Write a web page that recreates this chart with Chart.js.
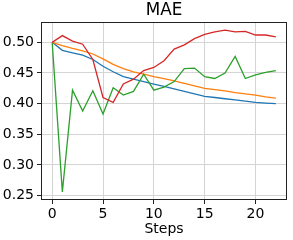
<!DOCTYPE html>
<html>
<head>
<meta charset="utf-8">
<script src="https://cdn.jsdelivr.net/npm/chart.js@4.4.1/dist/chart.umd.min.js"></script>
<style>
  html, body { margin: 0; padding: 0; background: #fff; }
  #wrap { width: 293px; height: 240px; }
</style>
</head>
<body>
<div id="wrap"><canvas id="maeChart" width="293" height="240"></canvas></div>
<script>
// values
const steps = [0,1,2,3,4,5,6,7,8,9,10,11,12,13,14,15,16,17,18,19,20,21,22];
const blueVals   = [0.500,0.487,0.483,0.479,0.472,0.461,0.452,0.444,0.440,0.436,0.432,0.428,0.424,0.420,0.416,0.412,0.410,0.408,0.406,0.404,0.402,0.401,0.400];
const orangeVals = [0.500,0.4945,0.490,0.486,0.481,0.473,0.464,0.457,0.452,0.448,0.444,0.441,0.437,0.433,0.429,0.425,0.423,0.421,0.418,0.416,0.414,0.411,0.409];
const greenVals  = [0.500,0.256,0.422,0.388,0.421,0.383,0.426,0.414,0.420,0.448,0.422,0.427,0.436,0.457,0.458,0.444,0.441,0.450,0.477,0.441,0.447,0.451,0.454];
const redVals    = [0.500,0.511,0.502,0.497,0.472,0.410,0.402,0.432,0.440,0.454,0.459,0.470,0.489,0.496,0.506,0.513,0.517,0.520,0.517,0.518,0.512,0.512,0.509];
const xTicks = [0,5,10,15,20];
const yTicks = [0.25,0.30,0.35,0.40,0.45,0.50];

const FONT = "'DejaVu Sans', sans-serif";

function series(vals, color, order) {
    return {
        data: steps.map((s, i) => ({ x: s, y: vals[i] })),
        borderColor: color,
        backgroundColor: color,
        borderWidth: 1.3,
        pointRadius: 0,
        tension: 0,
        fill: false,
        order: order
    };
}

// matplotlib style box around the axes
const frame = {
    id: 'frame',
    afterDraw(chart) {
        const a = chart.chartArea, c = chart.ctx;
        c.save();
        c.strokeStyle = '#222';
        c.lineWidth = 1;
        c.strokeRect(Math.round(a.left) + 0.5, Math.round(a.top) + 0.5,
                     Math.round(a.right - a.left) - 1, Math.round(a.bottom - a.top) - 1);
        c.restore();
    }
};

const ctx = document.getElementById("maeChart").getContext("2d");
new Chart(ctx, {
    type: 'line',
    data: {
        datasets: [
            series(blueVals, '#1f77b4', 3),
            series(orangeVals, '#ff7f0e', 2),
            series(greenVals, '#2ca02c', 1),
            series(redVals, '#d62728', 0)
        ]
    },
    options: {
        responsive: false,
        animation: false,
        layout: { padding: { left: 0, right: 6, top: 0, bottom: 0 } },
        plugins: {
            legend: { display: false },
            tooltip: { enabled: false },
            title: {
                display: true,
                text: 'MAE',
                fullSize: false,
                color: '#000',
                font: { family: FONT, size: 16.8, weight: 'normal', lineHeight: 1 },
                padding: { top: 2, bottom: 3.2 }
            }
        },
        scales: {
            x: {
                type: 'linear',
                min: -1.1,
                max: 23.1,
                afterBuildTicks: s => { s.ticks = xTicks.map(v => ({ value: v })); },
                afterFit: s => { s.height = 40; },
                ticks: {
                    color: '#000',
                    font: { family: FONT, size: 14 },
                    padding: 2,
                    maxRotation: 0,
                    callback: v => String(v)
                },
                grid: { color: '#d4d4d4', lineWidth: 1, tickLength: 4, tickColor: '#222' },
                border: { display: false },
                title: {
                    display: true,
                    text: 'Steps',
                    color: '#000',
                    font: { family: FONT, size: 14 },
                    padding: { top: 0, bottom: 2 }
                }
            },
            y: {
                min: 0.2428,
                max: 0.5332,
                afterBuildTicks: s => { s.ticks = yTicks.map(v => ({ value: v })); },
                afterFit: s => { s.width = 41; },
                ticks: {
                    color: '#000',
                    font: { family: FONT, size: 14 },
                    padding: 3,
                    callback: v => v.toFixed(2)
                },
                grid: { color: '#d4d4d4', lineWidth: 1, tickLength: 4, tickColor: '#222' },
                border: { display: false }
            }
        }
    },
    plugins: [frame]
});
</script>
</body>
</html>
